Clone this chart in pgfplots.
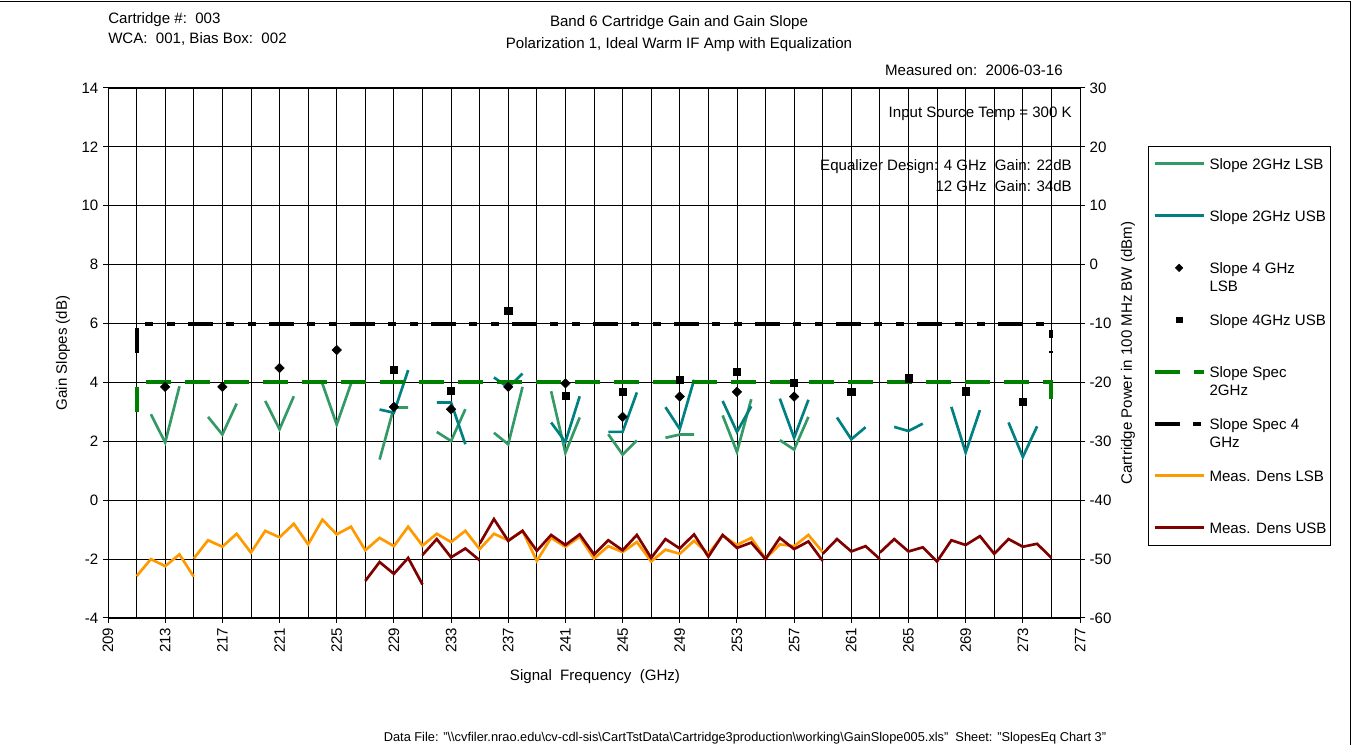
\documentclass[border=0pt]{standalone}
\usepackage{fontspec}
\setmainfont{Liberation Sans}
\usepackage{pgfplots}
\pgfplotsset{compat=1.18}

\definecolor{slopelsb}{RGB}{51,153,102}
\definecolor{slopeusb}{RGB}{0,128,128}
\definecolor{specgreen}{RGB}{0,128,0}
\definecolor{denslsb}{RGB}{255,153,0}
\definecolor{densusb}{RGB}{128,0,0}

\newcommand{\chartfont}{\fontsize{11.3}{13.5}\selectfont}
\newcommand{\legtext}[1]{\parbox[t]{88pt}{\raggedright #1}}

\pgfplotsset{
  lineleg/.style={legend image code/.code={\draw[##1] (0pt,0pt) -- (36.75pt,0pt);}},
  markleg/.style={legend image code/.code={\draw[##1] plot coordinates {(18.4pt,0pt)};}},
  slopeline/.style={line width=2pt, line join=miter},
  spectwo/.style={specgreen, line width=3pt, dash pattern=on 18.75pt off 10.5pt},
  specfour/.style={black, line width=3pt, dash pattern=on 18.75pt off 10pt on 6pt off 10pt on 6pt off 10pt},
  densline/.style={line width=2pt, line join=miter},
  rhombus/.style={mark=square*, mark options={rotate=45}},
  chartbox/.style={
    at={(81pt,95.25pt)}, anchor=south west,
    scale only axis, width=729pt, height=397.5pt,
    xmin=209, xmax=277,
    tick align=outside, major tick length=3.75pt,
    tick style={black, line width=0.75pt},
    axis line style={black, line width=0.75pt},
    tick label style={font=\chartfont},
    label style={font=\chartfont},
    /pgf/number format/assume math mode=true,
    unbounded coords=jump,
  },
}

\begin{document}
\begin{tikzpicture}
% ---------------- gain slopes (left axis) ----------------
\begin{axis}[chartbox,
  ymin=-4, ymax=14, ytick={-4,-2,...,14},
  xtick={209,213,...,277}, minor xtick={211,215,...,275},
  xtick pos=bottom, ytick pos=left, minor tick length=0pt,
  grid=both,
  major grid style={black, line width=0.6pt},
  minor grid style={black, line width=0.6pt},
  xticklabel style={rotate=90, anchor=east},
  xlabel={Signal\ \ Frequency\ \ (GHz)},
  ylabel={Gain Slopes (dB)},
  xlabel style={at={(axis description cs:0.501,-0.111)}, anchor=center},
  ylabel style={at={(axis description cs:-0.0463,0.5)}, anchor=center},
]
% Slope 2GHz LSB
\addplot[slopelsb, slopeline] coordinates {
 (212,2.92) (213,1.96) (214,3.87) (215,nan)
 (216,2.83) (217,2.23) (218,3.28) (219,nan)
 (220,3.37) (221,2.41) (222,3.53) (223,nan)
 (224,3.96) (225,2.57) (226,3.96) (227,nan)
 (228,1.38) (229,3.15) (230,3.15) (231,nan)
 (232,2.32) (233,2.01) (234,3.09) (235,nan)
 (236,2.29) (237,1.90) (238,3.85) (239,nan)
 (240,3.70) (241,1.61) (242,2.81) (243,nan)
 (244,2.24) (245,1.55) (246,2.03) (247,nan)
 (248,2.12) (249,2.23) (250,2.23) (251,nan)
 (252,2.88) (253,1.64) (254,3.43) (255,nan)
 (256,2.04) (257,1.72) (258,2.83)
};
% Slope 2GHz USB
\addplot[slopeusb, slopeline] coordinates {
 (228,3.08) (229,2.97) (230,4.42) (231,nan)
 (232,3.32) (233,3.32) (234,1.90) (235,nan)
 (236,4.17) (237,3.83) (238,4.30) (239,nan)
 (240,2.64) (241,1.98) (242,3.53) (243,nan)
 (244,2.32) (245,2.32) (246,3.66) (247,nan)
 (248,3.16) (249,2.42) (250,4.09) (251,nan)
 (252,3.37) (253,2.32) (254,3.19) (255,nan)
 (256,3.45) (257,2.12) (258,3.41) (259,nan)
 (260,2.81) (261,2.07) (262,2.48) (263,nan)
 (264,2.49) (265,2.35) (266,2.60) (267,nan)
 (268,3.17) (269,1.62) (270,3.06) (271,nan)
 (272,2.64) (273,1.47) (274,2.51)
};
% Slope specifications
\addplot[spectwo] coordinates {(211,3) (211,4) (275,4) (275,3)};
\addplot[specfour] coordinates {(211,5) (211,6) (275,6) (275,5)};
% Slope 4 GHz LSB
\addplot[only marks, rhombus, mark size=2.5pt, black] coordinates {
 (213,3.85) (217,3.85) (221,4.49) (225,5.10) (229,3.17) (233,3.09)
 (237,3.85) (241,3.97) (245,2.83) (249,3.52) (253,3.68) (257,3.52)
};
% Slope 4GHz USB
\addplot[only marks, mark=square*, mark size=2.7pt, black] coordinates {
 (229,4.44) (233,3.71) (237,6.44) (241,3.54) (245,3.67) (249,4.10)
 (253,4.35) (257,3.99) (261,3.67) (265,4.14) (269,3.70) (273,3.35)
};
\end{axis}

% ---------------- measured power density (right axis) ----------------
\begin{axis}[chartbox,
  ymin=-60, ymax=30, ytick={-60,-50,...,30},
  axis y line*=right, axis x line=none,
  yticklabel style={anchor=west},
  ylabel={Cartridge Power in 100 MHz BW (dBm)},
  ylabel style={at={(axis description cs:1.0494,0.5)}, anchor=center},
  legend style={at={(axis description cs:1.0700,0.8911)}, anchor=north west,
    draw=black, line width=0.75pt, fill=white, font=\chartfont,
    inner xsep=3pt, inner ysep=4.2pt, row sep=21pt, column sep=3pt,
    cells={anchor=west},
    nodes={inner sep=0pt, text height=13pt, text depth=5pt}},
]
\addlegendimage{lineleg, slopelsb, slopeline}
\addlegendentry{\legtext{Slope 2GHz LSB}}
\addlegendimage{lineleg, slopeusb, slopeline}
\addlegendentry{\legtext{Slope 2GHz USB}}
\addlegendimage{markleg, only marks, rhombus, mark size=2pt, black, line width=0.4pt}
\addlegendentry{\legtext{Slope 4 GHz\\LSB}}
\addlegendimage{markleg, only marks, mark=square*, mark size=2.2pt, black, line width=0.4pt}
\addlegendentry{\legtext{Slope 4GHz USB}}
\addlegendimage{lineleg, spectwo}
\addlegendentry{\legtext{Slope Spec\\2GHz}}
\addlegendimage{lineleg, specfour}
\addlegendentry{\legtext{Slope Spec 4\\GHz}}
\addlegendimage{lineleg, denslsb, densline}
\addlegendentry{\legtext{Meas. Dens LSB}}
\addlegendimage{lineleg, densusb, densline}
\addlegendentry{\legtext{Meas. Dens USB}}
% Meas. Dens LSB
\addplot[denslsb, densline, forget plot] coordinates {
 (211,-52.9) (212,-50.0) (213,-51.2) (214,-49.2) (215,-53.0) (215,nan)
 (215,-49.9) (216,-46.8) (217,-47.9) (218,-45.7) (219,-48.9) (220,-45.2)
 (221,-46.3) (222,-44.0) (223,-47.5) (224,-43.3) (225,-45.8) (226,-44.5)
 (227,-48.5) (228,-46.4) (229,-47.8) (230,-44.5) (231,-47.7) (232,-45.7)
 (233,-47.1) (234,-45.2) (235,-48.3) (236,-45.7) (237,-46.8) (238,-45.2)
 (239,-50.3) (240,-46.4) (241,-47.9) (242,-46.2) (243,-49.9) (244,-47.8)
 (245,-48.8) (246,-47.1) (247,-50.4) (248,-48.4) (249,-49.1) (250,-46.9)
 (251,-49.1) (252,-46.0) (253,-47.6) (254,-46.4) (255,-49.9) (256,-47.5)
 (257,-47.8) (258,-45.9) (259,-48.8)
};
% Meas. Dens USB
\addplot[densusb, densline, forget plot] coordinates {
 (227,-53.7) (228,-50.5) (229,-52.5) (230,-49.8) (231,-54.3) (231,nan)
 (231,-49.3) (232,-46.6) (233,-49.7) (234,-48.2) (235,-50.2) (235,nan)
 (235,-47.4) (236,-43.2) (237,-46.9) (238,-45.2) (239,-48.6) (240,-45.9)
 (241,-47.6) (242,-45.8) (243,-49.2) (244,-46.8) (245,-48.5) (246,-45.9)
 (247,-49.8) (248,-46.6) (249,-48.2) (250,-45.8) (251,-49.6) (252,-45.9)
 (253,-48.1) (254,-47.2) (255,-50.0) (256,-46.4) (257,-48.3) (258,-47.0)
 (259,-50.3) (259,nan)
 (259,-49.1) (260,-46.6) (261,-48.7) (262,-47.8) (263,-50.0) (263,nan)
 (263,-48.9) (264,-46.6) (265,-48.7) (266,-48.0) (267,-50.4) (268,-46.8)
 (269,-47.6) (270,-46.1) (271,-49.1) (272,-46.6) (273,-47.9) (274,-47.4)
 (275,-49.8)
};
\end{axis}

% ---------------- header and footer text ----------------
\begin{scope}[every node/.style={font=\chartfont, inner sep=0pt}]
\node[anchor=base west] at (81pt,541.25pt) {Cartridge \#:\ \ 003};
\node[anchor=base west] at (81pt,526.25pt) {WCA:\ \ 001, Bias Box:\ \ 002};
\node[anchor=base] at (509.25pt,539pt) {Band 6 Cartridge Gain and Gain Slope};
\node[anchor=base] at (509.25pt,522.5pt) {Polarization 1, Ideal Warm IF Amp with Equalization};
\node[anchor=base east] at (797.25pt,502.25pt) {Measured on:\ \ 2006-03-16};
\node[anchor=base east] at (804pt,470.75pt) {Input Source Temp = 300 K};
\node[anchor=base east] at (804pt,431pt) {Equalizer Design: 4 GHz\ \ Gain: 22dB};
\node[anchor=base east] at (804pt,415.25pt) {12 GHz\ \ Gain: 34dB};
\node[anchor=base, font=\fontsize{9.6}{11}\selectfont] at (558.75pt,2.25pt)
  {Data File: "\textbackslash\textbackslash cvfiler.nrao.edu\textbackslash cv-cdl-sis\textbackslash CartTstData\textbackslash Cartridge3production\textbackslash working\textbackslash GainSlope005.xls"\ \ Sheet: "SlopesEq Chart 3"};
\end{scope}
\draw[black, line width=1pt] (0pt,557.6pt) -- (1012.7pt,557.6pt) -- (1012.7pt,0pt);

\pgfresetboundingbox
\path[use as bounding box] (0pt,0pt) rectangle (1017pt,558.75pt);
\end{tikzpicture}
\end{document}
